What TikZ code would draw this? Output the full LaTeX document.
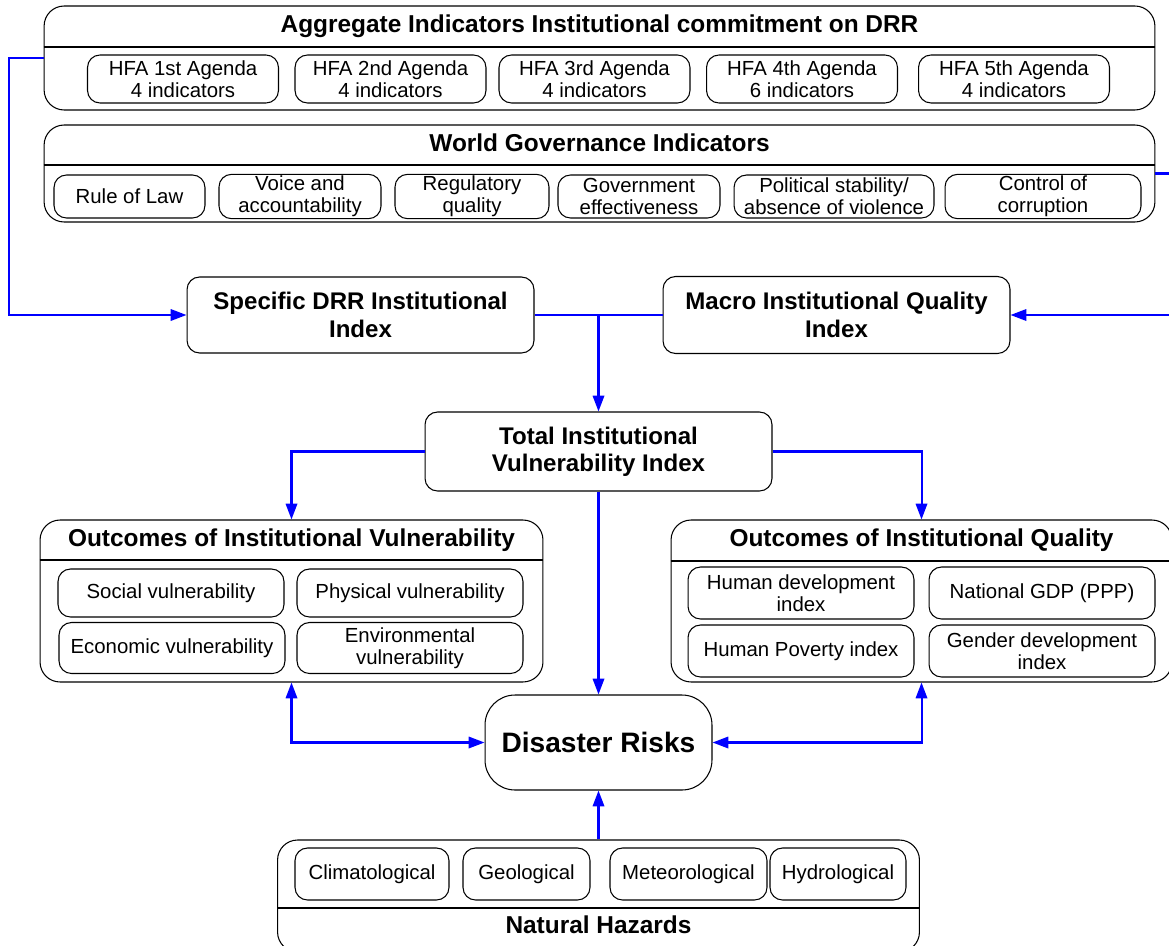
\documentclass[tikz,border=0pt]{standalone}
\usepackage{fontspec}
\setmainfont{Liberation Sans}
\usepackage{tikz}
\usetikzlibrary{arrows.meta,positioning,calc}

\begin{document}
\begin{tikzpicture}[x=0.02cm,y=-0.02cm,
frame/.style={draw,line width=0.6pt,rounded corners=0.4cm,inner sep=0pt},
item/.style={draw,line width=0.6pt,rounded corners=0.25cm,align=center,inner sep=1pt,minimum height=0.96cm,font={\fontsize{11.6}{12.4}\selectfont}},
title/.style={font={\bfseries\fontsize{13.9}{15.4}\selectfont}},
index/.style={draw,line width=0.6pt,rounded corners=0.25cm,align=center,minimum width=6.94cm,font={\bfseries\fontsize{13.7}{15.6}\selectfont}},
divide/.style={line width=0.6pt},
edge/.style={line width=1.15pt,draw=blue,-{Triangle[length=9pt,width=6.5pt]}},
both/.style={line width=1.15pt,draw=blue,{Triangle[length=9pt,width=6.5pt]}-{Triangle[length=9pt,width=6.5pt]}},
link/.style={line width=1.15pt,draw=blue}]
\useasboundingbox (0,0) rectangle (1169,946);

\node(agg)[frame,minimum width=22.22cm,minimum height=2.08cm] at (599.5,58) {};
\node(aggtitle)[title] at (599.5,26) {Aggregate Indicators Institutional commitment on DRR};
\draw[divide] (agg.west |- 0,47) -- (agg.east |- 0,47);
\node(hfa1)[item,minimum width=3.82cm] at (183,79) {HFA 1st Agenda\\4 indicators};
\node(hfa2)[item,minimum width=3.82cm] at (390.5,79) {HFA 2nd Agenda\\4 indicators};
\node(hfa3)[item,minimum width=3.82cm] at (594.5,79) {HFA 3rd Agenda\\4 indicators};
\node(hfa4)[item,minimum width=3.82cm] at (802,79) {HFA 4th Agenda\\6 indicators};
\node(hfa5)[item,minimum width=3.82cm] at (1014,79) {HFA 5th Agenda\\4 indicators};

\node(wgi)[frame,minimum width=22.22cm,minimum height=1.94cm] at (599.5,173.5) {};
\node(wgititle)[title] at (599.5,143) {World Governance Indicators};
\draw[divide] (wgi.west |- 0,165) -- (wgi.east |- 0,165);
\node(law)[item,minimum width=3.02cm,minimum height=0.86cm] at (129.5,196.5) {Rule of Law};
\node(voice)[item,minimum width=3.24cm,minimum height=0.86cm] at (300,196.5) {Voice and\\accountability};
\node(regul)[item,minimum width=3.08cm,minimum height=0.86cm] at (472,196.5) {Regulatory\\quality};
\node(gov)[item,minimum width=3.24cm,minimum height=0.86cm] at (639,196.5) {Government\\effectiveness};
\node(polit)[item,minimum width=4.00cm,minimum height=0.86cm] at (834,196.5) {Political stability/\\absence of violence};
\node(corrupt)[item,minimum width=3.92cm,minimum height=0.86cm] at (1043,196.5) {Control of\\corruption};

\node(spec)[index,minimum height=1.52cm] at (360.5,315) {Specific DRR Institutional\\Index};
\node(macro)[index,minimum height=1.54cm] at (836.5,315) {Macro Institutional Quality\\Index};
\node(total)[index,minimum height=1.58cm] at (598.5,451.5) {Total Institutional\\Vulnerability Index};

\node(oiv)[frame,minimum width=10.06cm,minimum height=3.24cm] at (291.5,601) {};
\node(oivtitle)[title] at (291.5,540) {Outcomes of Institutional Vulnerability};
\draw[divide] (oiv.west |- 0,560) -- (oiv.east |- 0,560);
\node(social)[item,minimum width=4.52cm] at (171,593) {Social vulnerability};
\node(phys)[item,minimum width=4.52cm] at (410,593) {Physical vulnerability};
\node(econ)[item,minimum width=4.52cm,minimum height=1.02cm] at (172,648) {Economic vulnerability};
\node(envir)[item,minimum width=4.52cm,minimum height=1.02cm] at (410,648) {Environmental\\vulnerability};

\node(oiq)[frame,minimum width=10.02cm,minimum height=3.24cm] at (921.5,601) {};
\node(oiqtitle)[title] at (921.5,540) {Outcomes of Institutional Quality};
\draw[divide] (oiq.west |- 0,561) -- (oiq.east |- 0,561);
\node(hdi)[item,minimum width=4.52cm,minimum height=1.04cm] at (801,593) {Human development\\index};
\node(gdp)[item,minimum width=4.52cm,minimum height=1.04cm] at (1042,593) {National GDP (PPP)};
\node(hpi)[item,minimum width=4.52cm,minimum height=1.04cm] at (801,651) {Human Poverty index};
\node(gdi)[item,minimum width=4.52cm,minimum height=1.04cm] at (1042,651) {Gender development\\index};

\node(risk)[draw,line width=0.6pt,rounded corners=0.6cm,minimum width=4.54cm,minimum height=1.9cm,font={\bfseries\fontsize{16}{19}\selectfont}] at (598.5,742.5) {Disaster Risks};

\node(nh)[frame,minimum width=12.84cm,minimum height=2.24cm] at (598.5,896) {};
\node(nhtitle)[title] at (598.5,925) {Natural Hazards};
\draw[divide] (nh.west |- 0,908) -- (nh.east |- 0,908);
\node(clim)[item,minimum width=3.08cm,minimum height=1.04cm] at (372,874) {Climatological};
\node(geol)[item,minimum width=2.54cm,minimum height=1.04cm] at (526.5,874) {Geological};
\node(meteo)[item,minimum width=3.14cm,minimum height=1.04cm] at (688.5,874) {Meteorological};
\node(hydro)[item,minimum width=2.72cm,minimum height=1.04cm] at (838,874) {Hydrological};

\draw [edge] (agg.west) -- ++(-35,0) |- (spec.west);
\draw [edge] (wgi.east) -- ++(30,0) |- (macro.east);
\draw [link] (spec.east) -- (macro.west);
\draw [edge] (spec.east -| total.north) -- (total.north);
\draw [edge] (total.west) -| (oiv.north);
\draw [edge] (total.east) -| (oiq.north);
\draw [edge] (total.south) -- (risk.north);
\draw [both] (risk.west) -| (oiv.south);
\draw [both] (risk.east) -| (oiq.south);
\draw [edge] (nh.north) -- (risk.south);
\end{tikzpicture}
\end{document}
